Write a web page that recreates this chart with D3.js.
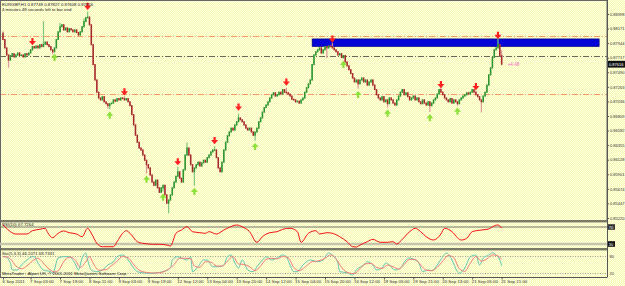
<!DOCTYPE html>
<html><head><meta charset="utf-8">
<script src="https://cdn.jsdelivr.net/npm/d3@7/dist/d3.min.js"></script>
<style>html,body{margin:0;padding:0;background:#f9f9c4;}svg{display:block;}</style>
</head><body>
<svg id="c" width="625" height="286"></svg>
<script>
// ---------------- DATA ----------------
const symbol = "EURGBP,H1";
const timerText = "4 minutes 48 seconds left to bar end";
const closes = [
0.8800,0.8787,0.8776,0.8768,0.8775,0.8778,0.8773,0.8776,0.8779,0.8775,
0.8776,0.8773,0.8778,0.8776,0.8779,0.8784,0.8789,0.8787,0.8790,0.8787,
0.8792,0.8789,0.8793,0.8796,0.8792,0.8789,0.8784,0.8781,0.8787,0.8800,
0.8812,0.8820,0.8823,0.8815,0.8818,0.8812,0.8817,0.8815,0.8812,0.8815,
0.8811,0.8807,0.8812,0.8820,0.8828,0.8834,0.8835,0.8823,0.8792,0.8761,
0.8737,0.8718,0.8709,0.8706,0.8711,0.8703,0.8700,0.8697,0.8700,0.8701,
0.8706,0.8704,0.8708,0.8706,0.8709,0.8708,0.8706,0.8708,0.8703,0.8697,
0.8683,0.8667,0.8651,0.8640,0.8631,0.8628,0.8620,0.8612,0.8605,0.8600,
0.8589,0.8578,0.8573,0.8581,0.8569,0.8562,0.8569,0.8573,0.8558,0.8545,
0.8550,0.8558,0.8569,0.8578,0.8587,0.8594,0.8584,0.8578,0.8597,0.8620,
0.8631,0.8620,0.8605,0.8594,0.8600,0.8605,0.8609,0.8603,0.8608,0.8612,
0.8609,0.8616,0.8620,0.8625,0.8628,0.8628,0.8616,0.8600,0.8594,0.8609,
0.8628,0.8640,0.8650,0.8656,0.8662,0.8659,0.8667,0.8672,0.8678,0.8675,
0.8672,0.8667,0.8662,0.8659,0.8662,0.8656,0.8651,0.8656,0.8662,0.8672,
0.8678,0.8687,0.8694,0.8698,0.8703,0.8709,0.8714,0.8717,0.8712,0.8714,
0.8718,0.8715,0.8722,0.8718,0.8717,0.8715,0.8712,0.8707,0.8706,0.8703,
0.8704,0.8701,0.8706,0.8709,0.8718,0.8725,0.8731,0.8737,0.8761,0.8776,
0.8781,0.8784,0.8787,0.8779,0.8784,0.8789,0.8787,0.8790,0.8789,0.8787,
0.8784,0.8781,0.8776,0.8778,0.8772,0.8775,0.8765,0.8759,0.8753,0.8747,
0.8740,0.8734,0.8737,0.8731,0.8737,0.8740,0.8734,0.8737,0.8729,0.8734,
0.8737,0.8729,0.8722,0.8714,0.8709,0.8706,0.8711,0.8703,0.8706,0.8700,
0.8709,0.8706,0.8701,0.8698,0.8706,0.8712,0.8718,0.8722,0.8714,0.8717,
0.8711,0.8706,0.8709,0.8712,0.8706,0.8709,0.8703,0.8700,0.8706,0.8701,
0.8698,0.8703,0.8697,0.8701,0.8706,0.8709,0.8715,0.8722,0.8718,0.8714,
0.8709,0.8706,0.8703,0.8708,0.8701,0.8706,0.8703,0.8700,0.8706,0.8709,
0.8712,0.8714,0.8717,0.8715,0.8718,0.8722,0.8718,0.8714,0.8711,0.8706,
0.8703,0.8712,0.8718,0.8729,0.8745,0.8756,0.8772,0.8784,0.8787,0.8792,
0.87749,0.87616];
const firstOpen = 0.8810;            // open of first bar; later bars open at previous close
const wickHighs = [[0,0.8812],[22,0.8828],[31,0.8825],[44,0.8832],[46,0.8843],[66,0.8711],[95,0.8601],[100,0.8639],[115,0.8633],[128,0.8684],[154,0.8724],[179,0.8794],[238,0.8725],[257,0.8720],[269,0.8800],[271,0.87827]];
const wickLows  = [[3,0.8757],[27,0.8778],[57,0.8693],[58,0.8692],[78,0.8592],[87,0.8564],[90,0.8530],[104,0.8573],[137,0.8643],[176,0.8772],[185,0.8771],[193,0.8724],[209,0.8695],[232,0.8688],[247,0.8698],[260,0.8687],[271,0.87608]];
const downArrows = [[16,0.8796],[46,0.8851],[66,0.8718],[95,0.8609],[115,0.8642],[128,0.8694],[154,0.8733],[179,0.8800],[238,0.8729],[257,0.8726],[269,0.8806]];
const upArrows   = [[28,0.8773],[58,0.8683],[78,0.8583],[87,0.8555],[104,0.8564],[137,0.8634],[185,0.8762],[193,0.8715],[209,0.8686],[232,0.8679],[247,0.8689]];
const levelsOrange = [0.8806, 0.8715];
const levelsGray = [0.8775];
const zoneBars = [168, 324];
const zonePrices = [0.8801, 0.8789];
const deltaText = "+4.48";
const priceTicks = [0.88398,0.88171,0.87944,0.87717,0.87490,0.87263,0.87036,0.86809,0.86582,0.86355,0.86128,0.85901,0.85674,0.85447,0.85220];
const xLabels = ["6 Sep 2011","7 Sep 03:00","7 Sep 19:00","8 Sep 11:00","9 Sep 03:00","9 Sep 19:00","12 Sep 12:00","13 Sep 04:00","13 Sep 20:00","14 Sep 12:00","15 Sep 04:00","15 Sep 20:00","16 Sep 12:00","19 Sep 05:00","19 Sep 21:00","20 Sep 13:00","21 Sep 05:00","21 Sep 21:00"];
const xLabelBars = [0,15,31,47,63,79,95,111,127,143,159,175,191,207,223,239,255,271];

const rsiName = "RSI(10) 67.7264";
const rsiLevels = [70, 30];
const rsiPoints = [[0,74.7],[1,70.7],[4,59],[7,53.5],[13,53.5],[16,61.3],[20,64.6],[23,67],[24,59],[27,44.8],[30,55.2],[33,60.6],[36,56.6],[40,53.5],[43,47.2],[46,67],[48,55.2],[51,31.6],[54,23.6],[60,23.6],[62,35.4],[65,55.2],[67,61.3],[69,55.2],[73,35.4],[76,31.6],[82,29.3],[85,29.3],[89,27.6],[91,25.3],[94,55.2],[97,62.9],[100,70.7],[103,59],[107,56.6],[110,55.2],[112,59],[116,53.5],[120,62.9],[123,69.3],[127,74.7],[130,70.7],[134,59],[138,34],[141,47.2],[145,56.6],[149,59],[152,64.6],[156,67],[160,59],[162,34],[166,55.2],[170,61.3],[172,53.5],[176,56.6],[179,55.2],[183,47.2],[187,35.4],[190,23.6],[192,22.9],[194,27.6],[198,35.4],[201,41],[205,34],[209,34],[212,35.4],[214,30],[217,41],[221,59],[224,67],[227,59],[230,47.2],[234,39.4],[238,53.5],[240,67],[244,59],[247,44.8],[249,39.4],[252,43.4],[255,59],[260,62.9],[264,65.3],[266,70.7],[269,74.7],[271,67.7]];

const stoName = "Sto(5,3,3) 46.2071 68.7331";
const stoLevels = [80, 20];
const stoMain = [[0,77.5],[1,77.5],[4,55.3],[5,30.6],[8,30.6],[10,48.2],[13,65.9],[16,77.5],[17,77.5],[19,55.3],[22,30.6],[26,24.6],[27,18.9],[30,72.9],[33,77.5],[36,77.5],[39,55.3],[41,30.6],[43,72.9],[45,90.6],[46,65.9],[48,30.6],[51,24.6],[54,30.6],[57,48.2],[60,59.9],[62,77.5],[65,83.5],[68,65.9],[71,37.6],[73,24.6],[76,21],[80,18.9],[84,21],[87,24.6],[91,37.6],[92,65.9],[95,77.5],[97,72.9],[100,65.9],[102,77.5],[103,24.6],[106,42.2],[109,65.9],[111,65.9],[114,42.2],[117,42.2],[120,48.2],[122,77.5],[124,83.5],[126,55.3],[128,37.6],[130,65.9],[133,30.6],[136,24.6],[138,42.2],[141,65.9],[143,77.5],[146,65.9],[149,72.9],[152,83.5],[154,77.5],[156,48.2],[158,24.6],[160,24.6],[163,48.2],[167,65.9],[171,59.9],[174,65.9],[177,90.6],[179,83.5],[182,55.3],[183,24.6],[187,21],[190,12.9],[192,30.6],[196,48.2],[198,59.9],[201,48.2],[203,30.6],[206,37.6],[208,55.3],[210,48.2],[213,30.6],[216,37.6],[219,65.9],[221,72.9],[224,65.9],[226,55.3],[228,24.6],[231,30.6],[233,28.1],[236,48.2],[239,77.5],[241,90.6],[244,65.9],[247,24.6],[248,18.9],[251,37.6],[254,77.5],[257,83.5],[259,48.2],[261,72.9],[264,83.5],[266,91.6],[268,83.5],[270,65.9],[271,46.2]];
const stoSignal = [[0,78],[2,77],[4,70],[7,45],[10,35],[13,45],[16,62],[19,72],[21,62],[24,40],[28,24],[30,28],[33,60],[36,76],[39,68],[42,40],[45,60],[47,78],[49,55],[52,30],[56,32],[59,46],[62,62],[65,78],[68,74],[71,50],[74,30],[78,22],[82,20],[86,22],[89,30],[93,50],[96,72],[99,72],[102,70],[104,45],[107,40],[110,60],[113,58],[116,45],[119,44],[122,62],[125,78],[128,52],[131,50],[134,42],[137,28],[140,45],[143,68],[146,72],[149,70],[152,78],[155,74],[158,40],[161,28],[164,40],[168,60],[171,62],[175,72],[178,84],[181,70],[184,40],[188,20],[191,18],[194,35],[197,52],[200,54],[203,40],[206,36],[209,48],[212,42],[215,34],[218,50],[221,68],[224,68],[227,48],[230,30],[233,28],[236,40],[239,62],[242,82],[245,74],[248,35],[251,26],[254,55],[257,78],[260,62],[263,70],[266,84],[269,80],[271,68.7]];
const copyright = "MetaTrader - Alpari UK, \u00A9 2001-2011 MetaQuotes Software Corp.";

// ---------------- LAYOUT ----------------
const W = 625, H = 286;
const axisX = 607;
const mainTop = 0, mainBot = 220;
const rsiTop = 222.5, rsiBot = 248;
const stoTop = 250.5, stoBot = 277;
const barStep = 1.84, firstX = 3;
const FONT = "'Liberation Sans', Arial, sans-serif";
const AX_FS = 4.0;

const svg = d3.select("#c");
const defs = svg.append("defs");
const pat = defs.append("pattern").attr("id","dither").attr("width",2).attr("height",2).attr("patternUnits","userSpaceOnUse");
pat.append("rect").attr("width",2).attr("height",2).attr("fill","#F7F7B4");
pat.append("rect").attr("width",1).attr("height",1).attr("fill","#FFFFE2");
pat.append("rect").attr("x",1).attr("y",1).attr("width",1).attr("height",1).attr("fill","#FFFFE2");
svg.append("rect").attr("width",W).attr("height",H).attr("fill","url(#dither)");

function clip(id, y0, y1){
  defs.append("clipPath").attr("id",id).append("rect").attr("x",0).attr("y",y0).attr("width",axisX).attr("height",y1-y0);
  return svg.append("g").attr("clip-path",`url(#${id})`);
}

const n = closes.length;
const x = d3.scaleLinear().domain([0, n-1]).range([firstX, firstX + barStep*(n-1)]);
const y = d3.scaleLinear().domain([priceTicks[priceTicks.length-1], priceTicks[0]]).range([218, 14]);
const rsiY = d3.scaleLinear().domain([30,70]).range([244,227]);
const stoY = d3.scaleLinear().domain([20,80]).range([273,256]);

// candles
const hiMap = new Map(wickHighs), loMap = new Map(wickLows);
const bars = closes.map((c,i)=>{
  const o = i===0 ? firstOpen : closes[i-1];
  const h = Math.max(o, c, hiMap.get(i) ?? -Infinity);
  const l = Math.min(o, c, loMap.get(i) ?? Infinity);
  return {i,o,h,l,c,bull:c>=o};
});

const gMain = clip("cm", mainTop, mainBot);

// levels
gMain.selectAll(".lo").data(levelsOrange).join("line")
  .attr("x1",0).attr("x2",axisX).attr("y1",d=>Math.round(y(d))+0.5).attr("y2",d=>Math.round(y(d))+0.5)
  .attr("stroke","#F59B63").attr("stroke-width",1).attr("stroke-dasharray","6,2,1,2");
gMain.selectAll(".lg").data(levelsGray).join("line")
  .attr("x1",0).attr("x2",axisX).attr("y1",d=>Math.round(y(d))+0.5).attr("y2",d=>Math.round(y(d))+0.5)
  .attr("stroke","#6A6A5A").attr("stroke-width",1).attr("stroke-dasharray","6,2,1,2");

// zone
gMain.append("rect")
  .attr("x",x(zoneBars[0])).attr("width",x(zoneBars[1])-x(zoneBars[0]))
  .attr("y",y(zonePrices[0])).attr("height",y(zonePrices[1])-y(zonePrices[0]))
  .attr("fill","#0505D8").attr("stroke","#00006A").attr("stroke-width",0.6);

// wicks
gMain.selectAll(".wk").data(bars).join("line")
  .attr("x1",d=>x(d.i)).attr("x2",d=>x(d.i))
  .attr("y1",d=>y(d.h)-0.5).attr("y2",d=>y(d.l)+0.5)
  .attr("stroke",d=>d.bull?"#7FC77F":"#DD9A9A").attr("stroke-width",1.2);
// bodies
gMain.selectAll(".bd").data(bars).join("rect")
  .attr("x",d=>x(d.i)-0.75).attr("width",1.5)
  .attr("y",d=>Math.min(y(d.o),y(d.c))-0.5)
  .attr("height",d=>Math.max(1.5,Math.abs(y(d.o)-y(d.c))+1))
  .attr("fill",d=>d.bull?"#2F952F":"#A52A2A");

// arrows
gMain.selectAll(".da").data(downArrows).join("path")
  .attr("d",d=>{const X=x(d[0]),Y=y(d[1]);return `M${X-1.1},${Y-4}h2.2v3h2.4l-3.5,4.2l-3.5,-4.2h2.4z`;})
  .attr("fill","#FF2020");
gMain.selectAll(".ua").data(upArrows).join("path")
  .attr("d",d=>{const X=x(d[0]),Y=y(d[1]);return `M${X-1.1},${Y+4}h2.2v-3h2.4l-3.5,-4.2l-3.5,4.2h2.4z`;})
  .attr("fill","#8EE03A");

// delta text at current price
gMain.append("text").attr("x",x(n-1)+6).attr("y",y(closes[n-1])+1.5)
  .attr("font-family",FONT).attr("font-size",4.6).attr("fill","#F06BC8").text(deltaText);

// header
const f5 = d3.format(".5f");
const last = bars[n-1];
svg.append("text").attr("x",2).attr("y",5.5).attr("font-family",FONT).attr("font-size",4.3).attr("fill","#222")
  .text(`${symbol}  ${f5(last.o)} ${f5(last.h)} ${f5(last.l)} ${f5(last.c)}`);
svg.append("text").attr("x",2).attr("y",11).attr("font-family",FONT).attr("font-size",4.3).attr("fill","#222")
  .text(timerText);

// price axis
const ay = svg.append("g").attr("transform",`translate(${axisX},0)`)
  .call(d3.axisRight(y).tickValues(priceTicks).tickSize(2).tickPadding(1).tickFormat(f5));
ay.select(".domain").remove();
ay.selectAll("line").attr("stroke","#555");
ay.selectAll("text").attr("font-family",FONT).attr("font-size",AX_FS).attr("fill","#333");
// current price box
const cy = y(closes[n-1]);
svg.append("rect").attr("x",axisX+1).attr("y",cy-3.4).attr("width",W-axisX-1).attr("height",6.8).attr("fill","#111");
svg.append("text").attr("x",axisX+2).attr("y",cy+1.4).attr("font-family",FONT).attr("font-size",AX_FS).attr("fill","#fff").text(f5(closes[n-1]));

// frames / separators
svg.append("rect").attr("x",0.5).attr("y",0.5).attr("width",axisX-0.5).attr("height",mainBot).attr("fill","none").attr("stroke","#666").attr("stroke-width",1);
svg.append("rect").attr("x",0).attr("y",mainBot).attr("width",axisX).attr("height",2.4).attr("fill","#7A7A68");
svg.append("rect").attr("x",0).attr("y",rsiBot).attr("width",axisX).attr("height",2.4).attr("fill","#7A7A68");
svg.append("line").attr("x1",0.5).attr("x2",0.5).attr("y1",0).attr("y2",stoBot).attr("stroke","#666");
svg.append("line").attr("x1",axisX+0.5).attr("x2",axisX+0.5).attr("y1",0).attr("y2",stoBot).attr("stroke","#555");
svg.append("line").attr("x1",0).attr("x2",axisX+0.5).attr("y1",stoBot+0.5).attr("y2",stoBot+0.5).attr("stroke","#555");

// RSI panel
const gR = clip("cr", rsiTop, rsiBot);
gR.append("line").attr("x1",0).attr("x2",axisX).attr("y1",rsiY(rsiLevels[0])).attr("y2",rsiY(rsiLevels[0])).attr("stroke","#77776A").attr("stroke-width",1);
gR.append("line").attr("x1",0).attr("x2",axisX).attr("y1",rsiY(rsiLevels[1])).attr("y2",rsiY(rsiLevels[1])).attr("stroke","#C6C6AE").attr("stroke-width",2.6);
gR.append("path").datum(rsiPoints).attr("fill","none").attr("stroke","#F01010").attr("stroke-width",1)
  .attr("d",d3.line().x(d=>x(d[0])).y(d=>rsiY(d[1])).curve(d3.curveMonotoneX));
svg.append("text").attr("x",2).attr("y",226).attr("font-family",FONT).attr("font-size",4.3).attr("fill","#222").text(rsiName);
rsiLevels.forEach((v,k)=>{
  svg.append("rect").attr("x",axisX+1).attr("y",rsiY(v)-2.8).attr("width",7).attr("height",5.6).attr("fill",k?"#111":"#333");
  svg.append("text").attr("x",axisX+1.8).attr("y",rsiY(v)+1.5).attr("font-family",FONT).attr("font-size",AX_FS).attr("fill","#fff").text(v);
});

// Stochastic panel
const gS = clip("cs", stoTop, stoBot);
stoLevels.forEach(v=>{
  gS.append("line").attr("x1",0).attr("x2",axisX).attr("y1",Math.round(stoY(v))+0.5).attr("y2",Math.round(stoY(v))+0.5)
    .attr("stroke","#8A8A80").attr("stroke-width",0.8).attr("stroke-dasharray","1,1.5");
});
const sl = d3.line().x(d=>x(d[0])).y(d=>stoY(d[1])).curve(d3.curveMonotoneX);
gS.append("path").datum(stoMain).attr("fill","none").attr("stroke","#5EC6B4").attr("stroke-width",1).attr("d",sl);
gS.append("path").datum(stoSignal).attr("fill","none").attr("stroke","#F27C7C").attr("stroke-width",1).attr("d",sl);
svg.append("text").attr("x",2).attr("y",255).attr("font-family",FONT).attr("font-size",4.3).attr("fill","#222").text(stoName);
svg.append("text").attr("x",2).attr("y",275).attr("font-family",FONT).attr("font-size",4.3).attr("fill","#222").text(copyright);
stoLevels.forEach(v=>{
  svg.append("text").attr("x",axisX+2.5).attr("y",stoY(v)+1.5).attr("font-family",FONT).attr("font-size",AX_FS).attr("fill","#333").text(v);
});

// time axis
const ax = svg.append("g").attr("transform",`translate(0,${stoBot})`)
  .call(d3.axisBottom(x).tickValues(xLabelBars).tickSize(2.5).tickFormat((d,i)=>xLabels[i]));
ax.select(".domain").remove();
ax.selectAll("line").attr("stroke","#555");
ax.selectAll("text").attr("font-family",FONT).attr("font-size",4.4).attr("fill","#333")
  .attr("text-anchor","start").attr("dx",-1).attr("y",3).attr("dy","0.71em");
</script>
</body></html>
